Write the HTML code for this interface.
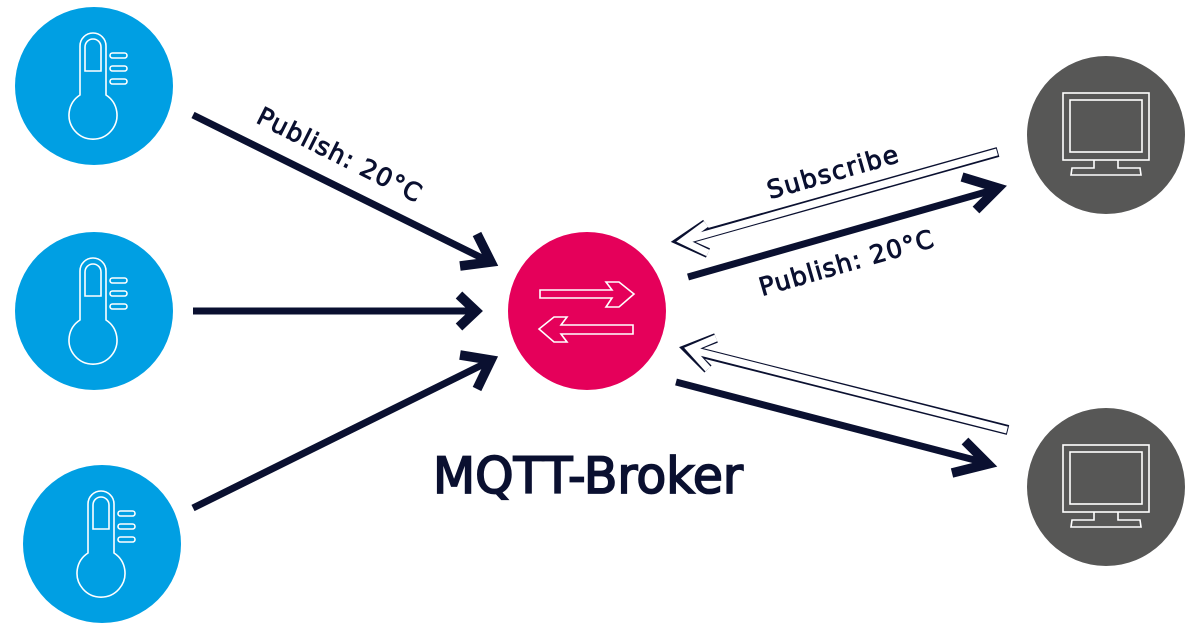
<!DOCTYPE html>
<html><head><meta charset="utf-8"><style>
html,body{margin:0;padding:0;background:#fff;}
svg{display:block}
text{font-family:"DejaVu Sans","Liberation Sans",sans-serif;fill:#0a1030;stroke:#0a1030}
</style></head><body>
<svg width="1200" height="631" viewBox="0 0 1200 631" xmlns="http://www.w3.org/2000/svg">
<defs>
<g id="th" fill="none" stroke="#fff" stroke-width="1.6">
  <path d="M-14,9 L-14,-40 A13,13 0 0 1 12,-40 L12,9 A24,24 0 1 1 -14,9 Z"/>
  <path d="M-9,-15 L-9,-39 A8,8 0 0 1 7,-39 L7,-15 Z"/>
  <rect x="16" y="-33" width="17" height="5" rx="2.5"/>
  <rect x="16" y="-20" width="17" height="5" rx="2.5"/>
  <rect x="16" y="-7" width="17" height="5" rx="2.5"/>
</g>
<g id="mon" fill="none" stroke="#fff" stroke-width="1.6">
  <rect x="-43" y="-42" width="86" height="67"/>
  <rect x="-36" y="-35" width="72" height="52"/>
  <path d="M-12,25 L-12,33 L-34,33 L-35,40 L35,40 L34,33 L12,33 L12,25"/>
</g>
</defs>

<circle cx="94" cy="86" r="79" fill="#009fe3"/>
<circle cx="94" cy="311" r="79" fill="#009fe3"/>
<circle cx="102" cy="544" r="79" fill="#009fe3"/>
<use href="#th" x="94" y="86"/>
<use href="#th" x="94" y="311"/>
<use href="#th" x="102" y="544"/>

<circle cx="587" cy="311" r="79" fill="#e5005a"/>
<g fill="none" stroke="#fff" stroke-width="1.6">
  <path d="M540,290 L612,290 L606,282 L619,282 L634,294 L619,307 L606,307 L612,298 L540,298 Z"/>
  <path d="M633,325 L561,325 L567,317 L554,317 L539,329 L554,342 L567,342 L561,334 L633,334 Z"/>
</g>

<circle cx="1106" cy="135" r="79" fill="#575756"/>
<circle cx="1106" cy="487" r="79" fill="#575756"/>
<use href="#mon" x="1106" y="135"/>
<use href="#mon" x="1106" y="487"/>

<g stroke="#0a1030" stroke-width="7" fill="none" stroke-linejoin="miter">
  <line x1="193" y1="115" x2="488" y2="261"/>
  <line x1="193" y1="311" x2="476" y2="311"/>
  <line x1="193" y1="508" x2="490" y2="361"/>
  <line x1="688" y1="277" x2="1000" y2="188"/>
  <line x1="676" y1="382" x2="990" y2="464"/>
</g>
<g stroke="#0a1030" stroke-width="9.5" fill="none" stroke-linejoin="miter">
  <polyline points="477,234 491,262 460,266"/>
  <polyline points="459,295 476,311 459,327"/>
  <polyline points="460,355 491,360 477,389"/>
  <polyline points="962,177 998,188 976,210"/>
  <polyline points="965,441 988,464 952,473"/>
</g>
<g fill="none" stroke-linejoin="miter">
  <g stroke="#0a1030" stroke-width="10">
    <line x1="998" y1="152" x2="684" y2="240"/>
    <polyline points="706,224 681,241 708,253"/>
    <line x1="1008" y1="430" x2="690" y2="350"/>
    <polyline points="716,338 688,349 708,369"/>
  </g>
  <g stroke="#fff" stroke-width="7">
    <line x1="997" y1="152" x2="686" y2="240"/>
    <polyline points="706,224 683,241 708,253"/>
    <line x1="1007" y1="430" x2="692" y2="350"/>
    <polyline points="716,338 690,349 708,369"/>
  </g>
</g>

<text x="0" y="0" font-size="25" stroke-width="0.9" transform="translate(255,122) rotate(26.6)" textLength="180">Publish: 20°C</text>
<text x="0" y="0" font-size="25" stroke-width="0.9" transform="translate(762,296) rotate(-16)" textLength="180">Publish: 20°C</text>
<text x="0" y="0" font-size="25" stroke-width="0.9" transform="translate(770,199) rotate(-16)" textLength="135">Subscribe</text>
<text x="433" y="493" font-size="50" stroke-width="1.8" textLength="310" lengthAdjust="spacingAndGlyphs">MQTT-Broker</text>
</svg>
</body></html>
